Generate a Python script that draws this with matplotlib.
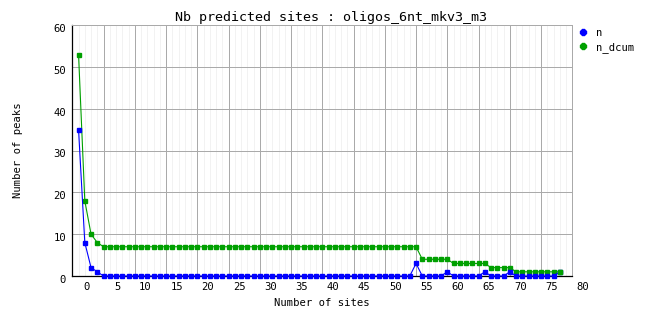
import matplotlib
matplotlib.use("Agg")
import matplotlib.pyplot as plt
from matplotlib.transforms import ScaledTranslation
from matplotlib.lines import Line2D

# ---- data ----
sites = list(range(1, 79))
n = [35, 8, 2, 1,
     0, 0, 0, 0, 0, 0, 0, 0, 0, 0,
     0, 0, 0, 0, 0, 0, 0, 0, 0, 0,
     0, 0, 0, 0, 0, 0, 0, 0, 0, 0,
     0, 0, 0, 0, 0, 0, 0, 0, 0, 0,
     0, 0, 0, 0, 0, 0, 0, 0, 0, 0,
     3, 0, 0, 0, 0, 1, 0, 0, 0, 0,
     0, 1, 0, 0, 0, 1, 0, 0, 0, 0,
     0, 0, 0, 1]
n_dcum = [53, 18, 10, 8,
          7, 7, 7, 7, 7, 7, 7, 7, 7, 7,
          7, 7, 7, 7, 7, 7, 7, 7, 7, 7,
          7, 7, 7, 7, 7, 7, 7, 7, 7, 7,
          7, 7, 7, 7, 7, 7, 7, 7, 7, 7,
          7, 7, 7, 7, 7, 7, 7, 7, 7, 7,
          7, 4, 4, 4, 4, 4, 3, 3, 3, 3,
          3, 3, 2, 2, 2, 2, 1, 1, 1, 1,
          1, 1, 1, 1]
x_ticks = [0, 5, 10, 15, 20, 25, 30, 35, 40, 45, 50, 55, 60, 65, 70, 75, 80]
x_tick_labels = [str(v) for v in x_ticks]
y_ticks = [0, 10, 20, 30, 40, 50, 60]
y_tick_labels = [str(v) for v in y_ticks]

title = "Nb predicted sites : oligos_6nt_mkv3_m3"
xlabel = "Number of sites"
ylabel = "Number of peaks"

BLUE = "#0000ff"
GREEN = "#00a000"
MONO = "DejaVu Sans Mono"

W, H = 662, 328
fig = plt.figure(figsize=(W / 100, H / 100), dpi=100)
fig.patch.set_facecolor("white")
left, right, top, bottom = 72.3, 572.3, 25.3, 276.0
ax = fig.add_axes([left / W, 1 - bottom / H, (right - left) / W, (bottom - top) / H])

ax.set_xlim(0, 80)
ax.set_ylim(0, 60)

# grids
ax.set_xticks(x_ticks)
ax.set_xticklabels(x_tick_labels)
ax.set_xticks(list(range(0, 81)), minor=True)
ax.set_yticks(y_ticks)
ax.set_yticklabels(y_tick_labels)
ax.grid(which="minor", axis="x", color="#f0f0f0", linewidth=0.6)
ax.grid(which="major", axis="both", color="#aaaaaa", linewidth=0.72)
ax.set_axisbelow(True)
ax.tick_params(which="both", length=0)
ax.tick_params(axis="x", pad=4.5, labelsize=7.6)
ax.tick_params(axis="y", pad=4.5, labelsize=7.6)

for lab in ax.get_xticklabels():
    lab.set_fontfamily(MONO)
    lab.set_horizontalalignment("right")
    lab.set_transform(lab.get_transform() + ScaledTranslation(0.17, 0, fig.dpi_scale_trans))
for lab in ax.get_yticklabels():
    lab.set_fontfamily(MONO)
    lab.set_transform(lab.get_transform() + ScaledTranslation(0, -0.027, fig.dpi_scale_trans))

for s in ["left", "bottom"]:
    ax.spines[s].set_color("black")
    ax.spines[s].set_linewidth(0.9)
for s in ["top", "right"]:
    ax.spines[s].set_color("#aaaaaa")
    ax.spines[s].set_linewidth(0.72)

ax.plot(sites, n_dcum, color=GREEN, linewidth=0.8, marker="s", markersize=2.2,
        clip_on=False, zorder=3)
ax.plot(sites, n, color=BLUE, linewidth=0.8, marker="s", markersize=2.2,
        clip_on=False, zorder=4)
# green last point drawn on top (as in reference)
ax.plot(sites[-1:], n_dcum[-1:], color=GREEN, marker="s", markersize=2.2,
        linestyle="none", clip_on=False, zorder=5)

fig.text(0.5, 1 - 17 / H, title, ha="center", va="center",
         fontfamily=MONO, fontsize=9.6)
fig.text((left + right) / 2 / W, 1 - 303 / H, xlabel, ha="center", va="center",
         fontfamily=MONO, fontsize=7.6)
fig.text(18 / W, 1 - 150.5 / H, ylabel, ha="center", va="center", rotation=90,
         fontfamily=MONO, fontsize=7.6)

handles = [Line2D([], [], color=BLUE, marker="8", markersize=5, linestyle="none"),
           Line2D([], [], color=GREEN, marker="8", markersize=5, linestyle="none")]
leg = fig.legend(handles, ["n", "n_dcum"], loc="upper left",
                 bbox_to_anchor=(578 / W, 1 - 28 / H), frameon=False,
                 handlelength=1.0, handletextpad=0.7, labelspacing=0.35,
                 borderpad=0, borderaxespad=0,
                 prop={"family": MONO, "size": 7.6})

fig.savefig("out.png", dpi=100)
